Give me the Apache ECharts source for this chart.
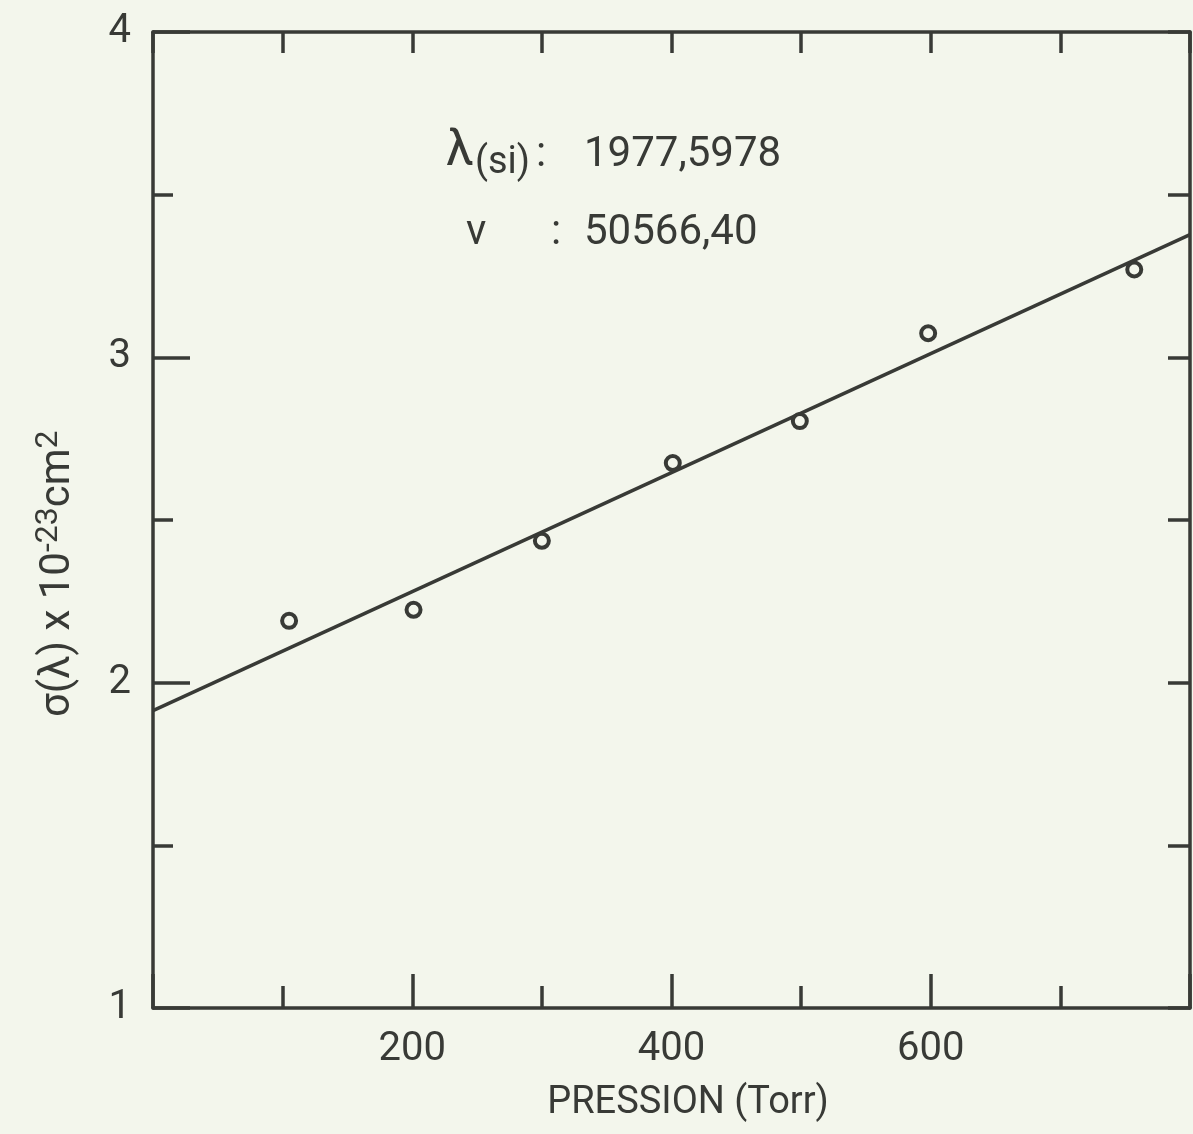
<!DOCTYPE html>
<html>
<head>
<meta charset="utf-8">
<title>σ(λ) vs pression</title>
<script src="https://cdn.jsdelivr.net/npm/echarts@6/dist/echarts.min.js"></script>
<style>
  html, body { margin: 0; padding: 0; background: #f3f6ec; }
  #chart { width: 1193px; height: 1134px; }
</style>
</head>
<body>
<div id="chart"></div>
<script>
// Measured cross-section vs. gas pressure
const pressure = [105, 201, 300, 401, 499, 598, 757];          // Torr
const sigma    = [2.19, 2.224, 2.436, 2.675, 2.804, 3.074, 3.27]; // ×10^-23 cm²

// Straight-line fit drawn across the whole pressure range
const fitPressure = [0, 800];
const fitSigma    = [1.914, 3.377];

// Axis ranges and labelled ticks
const xRange = [0, 800];
const yRange = [1, 4];
const xTickLabels = [200, 400, 600];
const yTickLabels = [1, 2, 3, 4];

// Annotation texts
const lineLabel = '1977,5978';
const waveLabel = '50566,40';

const INK = '#383a36';
const PAPER = '#f3f6ec';
const FONT = 'Roboto, "DejaVu Sans", sans-serif';

const chart = echarts.init(document.getElementById('chart'), null, { renderer: 'canvas' });

const frameLine = { show: true, onZero: false, lineStyle: { color: INK, width: 3.5 } };
const noLine = { show: false, onZero: false };
const tickStyle = { color: INK, width: 3.5 };

const option = {
  backgroundColor: PAPER,
  animation: false,
  grid: { left: 153, top: 32, width: 1037, height: 976, containLabel: false },
  xAxis: [
    { // bottom, labelled ticks
      type: 'value', position: 'bottom', min: xRange[0], max: xRange[1], interval: 200,
      axisLine: frameLine,
      axisTick: { show: true, inside: true, length: 34, lineStyle: tickStyle },
      axisLabel: {
        show: true, margin: 22, color: INK, fontFamily: FONT, fontSize: 40,
        formatter: v => (xTickLabels.indexOf(v) >= 0 ? String(v) : '')
      },
      splitLine: { show: false }
    },
    { // bottom, every 100 Torr
      type: 'value', position: 'bottom', min: xRange[0], max: xRange[1], interval: 100,
      axisLine: noLine,
      axisTick: { show: true, inside: true, length: 22, lineStyle: tickStyle },
      axisLabel: { show: false }, splitLine: { show: false }
    },
    { // top frame
      type: 'value', position: 'top', min: xRange[0], max: xRange[1], interval: 100,
      axisLine: frameLine,
      axisTick: { show: true, inside: true, length: 21, lineStyle: tickStyle },
      axisLabel: { show: false }, splitLine: { show: false }
    }
  ],
  yAxis: [
    { // left, labelled ticks
      type: 'value', position: 'left', min: yRange[0], max: yRange[1], interval: 1,
      axisLine: frameLine,
      axisTick: { show: true, inside: true, length: 37, lineStyle: tickStyle },
      axisLabel: {
        show: true, margin: 22, color: INK, fontFamily: FONT, fontSize: 40,
        padding: [9, 0, 0, 0],
        formatter: v => (yTickLabels.indexOf(v) >= 0 ? String(v) : '')
      },
      splitLine: { show: false }
    },
    { // left, half-unit ticks
      type: 'value', position: 'left', min: yRange[0], max: yRange[1], interval: 0.5,
      axisLine: noLine,
      axisTick: { show: true, inside: true, length: 20, lineStyle: tickStyle },
      axisLabel: { show: false }, splitLine: { show: false }
    },
    { // right frame
      type: 'value', position: 'right', min: yRange[0], max: yRange[1], interval: 0.5,
      axisLine: frameLine,
      axisTick: { show: true, inside: true, length: 22, lineStyle: tickStyle },
      axisLabel: { show: false }, splitLine: { show: false }
    }
  ],
  series: [
    {
      name: 'fit', type: 'line', xAxisIndex: 0, yAxisIndex: 0,
      data: fitPressure.map((p, i) => [p, fitSigma[i]]),
      showSymbol: false, symbol: 'none',
      lineStyle: { color: INK, width: 3.5 },
      z: 2
    },
    {
      name: 'mesures', type: 'scatter', xAxisIndex: 0, yAxisIndex: 0,
      data: pressure.map((p, i) => [p, sigma[i]]),
      symbol: 'circle', symbolSize: 14,
      itemStyle: { color: PAPER, borderColor: INK, borderWidth: 4, opacity: 1 },
      z: 3
    }
  ],
  graphic: [
    // Spectral line identification
    { type: 'text', x: 446, y: 152, style: { text: 'λ', font: '400 50px ' + FONT, fill: INK, textAlign: 'left', textVerticalAlign: 'middle' } },
    { type: 'text', x: 475, y: 163, style: { text: '(si)', font: '400 38px ' + FONT, fill: INK, textAlign: 'left', textVerticalAlign: 'middle' } },
    { type: 'text', x: 536, y: 155, style: { text: ':', font: '400 42px ' + FONT, fill: INK, textAlign: 'left', textVerticalAlign: 'middle' } },
    { type: 'text', x: 584, y: 155, style: { text: lineLabel, font: '400 42px ' + FONT, fill: INK, textAlign: 'left', textVerticalAlign: 'middle' } },
    { type: 'text', x: 466, y: 233, style: { text: 'ν', font: '400 42px ' + FONT, fill: INK, textAlign: 'left', textVerticalAlign: 'middle' } },
    { type: 'text', x: 551, y: 233, style: { text: ':', font: '400 42px ' + FONT, fill: INK, textAlign: 'left', textVerticalAlign: 'middle' } },
    { type: 'text', x: 584, y: 233, style: { text: waveLabel, font: '400 42px ' + FONT, fill: INK, textAlign: 'left', textVerticalAlign: 'middle' } },
    // Axis titles
    {
      type: 'text', x: 58, y: 717, rotation: Math.PI / 2,
      style: {
        text: '{a|σ(λ) x 10}{s|-23}{a|cm}{s|2}',
        textAlign: 'left', textVerticalAlign: 'middle', fill: INK,
        rich: {
          a: { fontFamily: FONT, fontSize: 42, lineHeight: 50, fill: INK },
          s: { fontFamily: FONT, fontSize: 32, lineHeight: 30, verticalAlign: 'top', fill: INK }
        }
      }
    },
    { type: 'text', x: 688, y: 1103, style: { text: 'PRESSION (Torr)', font: '400 38px ' + FONT, fill: INK, textAlign: 'center', textVerticalAlign: 'middle' } }
  ]
};

chart.setOption(option);
</script>
</body>
</html>
